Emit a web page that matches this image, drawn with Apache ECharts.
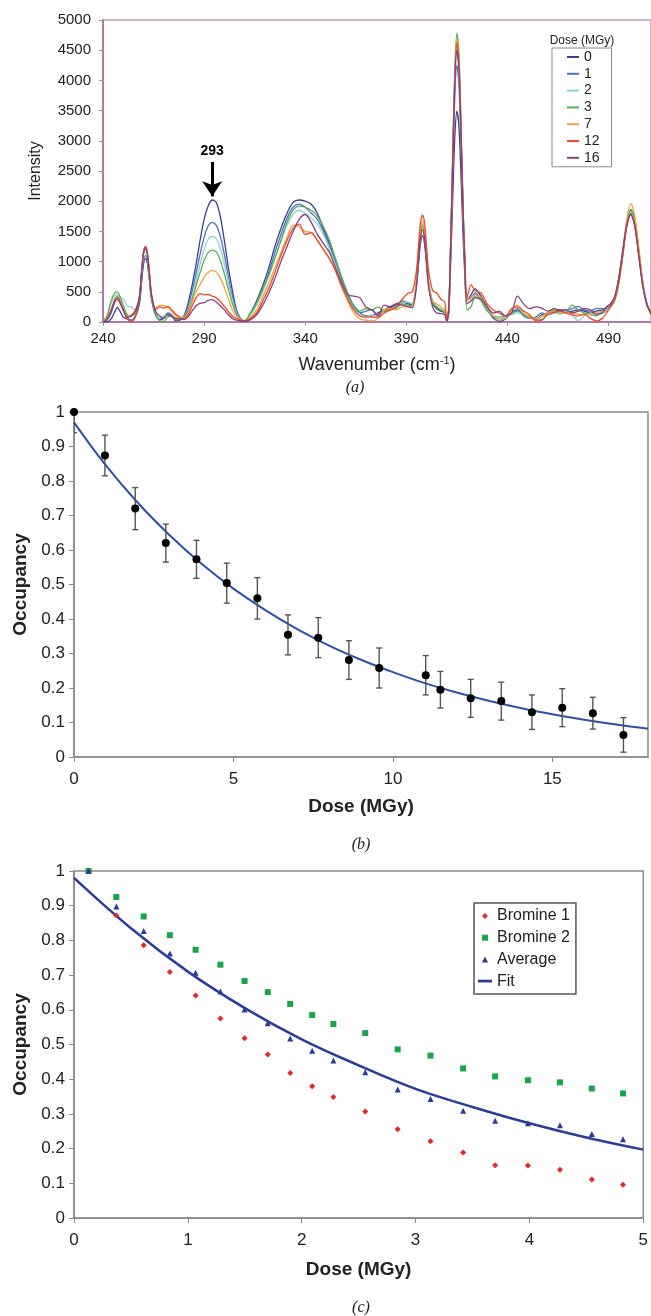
<!DOCTYPE html>
<html>
<head>
<meta charset="utf-8">
<script src="https://cdn.jsdelivr.net/npm/echarts@6/dist/echarts.min.js"></script>
<style>html,body{margin:0;padding:0;background:#fff}#c{width:651px;height:1316px}</style>
</head>
<body>
<div id="c"></div>
<script>
// ---------- Panel (a): Raman spectra ----------
const wavenumber = [240,242,244,246,247,248,250,252,254,256,
  258,259,260,261,262,263,264,266,
  268,270,272,274,276,278,280,
  282,284,286,288,290,292,294,296,298,300,302,304,306,308,310,
  313,316,319,322,325,328,331,334,337,340,343,346,349,352,355,358,361,364,367,370,
  373,376,379,382,385,388,391,393,395,396,397,398,399,400,401,403,405,407,409,
  410,411,412,413,414,415,416,417,418,419,420,
  422,424,427,430,433,436,439,442,445,448,451,454,457,460,463,466,469,472,475,478,481,484,
  487,489,491,493,495,497,499,501,503,505,507,509,511];
const doseLabels = ['0','1','2','3','7','12','16'];
const spec0 = [0,0,50,180,240,200,80,50,30,100,
  300,620,950,1050,960,680,380,120,
  40,60,140,100,20,30,100,
  300,600,950,1350,1700,1920,2020,1980,1750,1350,900,520,200,60,20,
  150,350,600,900,1250,1550,1800,1980,2020,2000,1950,1800,1550,1300,1000,700,450,250,150,100,
  100,150,200,250,300,330,300,280,600,950,1300,1430,1300,950,600,300,220,180,150,
  20,150,1050,2100,3070,3490,3250,2450,1500,750,350,
  450,550,420,250,80,10,50,150,200,120,80,40,120,150,180,200,150,180,200,180,150,180,
  200,250,300,400,700,1150,1600,1800,1600,1100,600,300,150];
const spec1 = [0,30,150,350,420,380,200,80,20,80,
  330,680,1000,1100,1000,700,400,130,
  50,80,150,120,40,50,90,
  250,500,800,1120,1400,1590,1650,1600,1420,1120,750,420,170,50,20,
  130,300,530,820,1150,1450,1720,1900,1950,1900,1800,1700,1500,1270,1000,700,430,250,150,180,
  200,120,180,230,280,350,320,300,650,1050,1450,1600,1450,1050,650,330,250,200,180,
  20,200,1280,2550,3740,4250,3950,2980,1800,900,380,
  400,480,380,220,60,20,80,150,220,100,60,80,150,120,150,180,200,220,260,200,180,220,
  220,220,280,400,700,1150,1630,1850,1650,1150,620,300,150];
const spec2 = [0,100,300,430,450,420,380,270,250,200,
  400,780,1100,1200,1080,760,430,170,
  60,100,120,90,60,60,80,
  200,420,680,950,1200,1370,1420,1380,1220,960,650,360,150,50,20,
  120,280,500,760,1050,1350,1600,1780,1850,1800,1720,1620,1450,1200,950,650,400,220,130,90,
  120,60,150,200,250,320,330,300,650,1060,1470,1620,1470,1060,650,330,260,220,180,
  20,220,1370,2730,4000,4550,4230,3190,1920,950,380,
  380,450,350,200,100,50,80,120,150,130,100,60,80,120,150,130,180,120,20,100,150,120,
  150,180,250,370,650,1100,1600,1820,1630,1130,600,280,130];
const spec3 = [0,100,350,490,500,450,280,120,100,170,
  400,800,1130,1230,1100,760,420,150,
  20,10,80,100,40,50,80,
  180,370,600,820,1020,1150,1190,1160,1020,800,540,300,130,40,20,
  150,320,550,780,1050,1350,1650,1850,1920,1900,1850,1750,1580,1350,1050,750,480,280,180,220,
  200,250,180,200,230,300,280,270,640,1030,1430,1580,1430,1030,640,330,240,200,160,
  10,240,1430,2870,4200,4780,4450,3350,2000,950,200,
  250,420,350,180,100,80,100,140,180,120,80,60,40,150,200,150,160,280,200,150,120,100,
  180,200,250,350,620,1080,1600,1870,1700,1200,650,300,120];
const spec7 = [0,50,200,370,390,360,220,100,120,200,
  420,810,1150,1250,1130,800,460,220,
  280,270,250,180,100,60,60,
  150,330,500,620,740,820,850,830,730,570,380,200,100,40,20,
  80,200,420,650,900,1150,1400,1600,1580,1500,1480,1350,1200,1050,850,580,350,150,50,30,
  20,60,200,220,200,250,250,270,650,1100,1520,1680,1520,1100,650,350,300,250,200,
  20,230,1400,2800,4120,4680,4350,3280,1970,950,350,
  400,450,400,250,100,30,60,200,280,150,80,50,100,150,180,160,150,150,130,120,130,150,
  180,200,250,380,680,1150,1700,1960,1750,1200,640,300,150];
const spec12 = [0,50,200,380,400,370,200,50,0,100,
  420,810,1150,1250,1130,790,450,200,
  250,230,260,200,130,80,50,
  120,260,400,470,450,455,430,400,340,260,170,100,60,30,20,
  60,150,350,560,820,1100,1350,1550,1620,1450,1480,1350,1200,1050,850,600,380,200,100,80,
  80,80,150,200,250,380,480,500,850,1250,1650,1770,1650,1250,850,520,480,380,330,
  20,230,1390,2770,4070,4620,4300,3240,1950,1000,400,
  620,520,480,300,200,150,100,220,250,180,120,20,30,130,160,180,150,120,100,130,60,20,
  60,150,250,370,650,1100,1580,1780,1600,1100,600,280,150];
const spec16 = [0,40,180,350,370,340,200,80,100,180,
  400,790,1130,1230,1110,780,440,180,
  100,60,120,90,60,50,40,
  80,180,270,310,320,360,370,330,270,200,120,60,30,20,10,
  40,120,280,480,720,1000,1250,1500,1700,1780,1650,1450,1300,1150,900,650,450,430,400,250,
  200,100,280,250,300,280,250,240,600,1000,1380,1530,1380,1000,600,250,150,140,120,
  10,220,1350,2700,3960,4500,4190,3150,1900,900,300,
  350,400,380,250,150,180,100,150,430,300,220,250,230,180,220,200,200,150,180,220,200,130,
  150,250,300,420,720,1180,1600,1780,1580,1080,580,280,140];
const spectra = [spec0, spec1, spec2, spec3, spec7, spec12, spec16];
const specColors = ['#3b3f8f','#4d72c6','#8fd3d3','#56b04f','#f7a03c','#ee4b26','#8b3f7d'];
const arrowPeak = 294, arrowTop = 2650, arrowBottom = 2080, arrowLabel = '293';

// ---------- Panel (b): occupancy vs dose ----------
const doseB = [0,0.97,1.92,2.88,3.84,4.79,5.75,6.71,7.66,8.62,9.57,11.03,11.49,12.44,13.4,14.36,15.31,16.27,17.23];
const occB  = [1.0,0.874,0.72,0.62,0.573,0.504,0.46,0.354,0.346,0.281,0.258,0.237,0.195,0.17,0.162,0.13,0.143,0.127,0.064];
const errB  = [0.06,0.059,0.061,0.055,0.055,0.058,0.06,0.058,0.058,0.056,0.058,0.057,0.053,0.055,0.055,0.05,0.055,0.046,0.05];
const fitBx = [0,1,2,3,4,5,6,7,8,9,10,11,12,13,14,15,16,17,18];
const fitBy = [0.97,0.845,0.737,0.643,0.56,0.488,0.426,0.371,0.323,0.282,0.246,0.214,0.187,0.163,0.142,0.124,0.108,0.094,0.082];

// ---------- Panel (c): bromine sites ----------
const doseC = [0.128,0.372,0.612,0.842,1.068,1.286,1.498,1.702,1.899,2.092,2.278,2.558,2.843,3.131,3.418,3.699,3.987,4.268,4.548,4.822];
const br1 = [1.0,0.872,0.786,0.709,0.641,0.575,0.518,0.471,0.418,0.38,0.349,0.307,0.256,0.221,0.189,0.152,0.151,0.139,0.111,0.096];
const br2 = [1.0,0.925,0.869,0.815,0.773,0.73,0.683,0.651,0.617,0.585,0.559,0.533,0.486,0.468,0.431,0.408,0.397,0.391,0.373,0.359];
const avgC = [1.0,0.898,0.827,0.762,0.707,0.653,0.601,0.561,0.517,0.482,0.454,0.42,0.37,0.343,0.309,0.28,0.273,0.267,0.242,0.227];
const fitCx = [0,0.5,1,1.5,2,2.5,3,3.5,4,4.5,5];
const fitCy = [0.98,0.835,0.71,0.605,0.515,0.44,0.372,0.32,0.273,0.232,0.197];
const legendC = ['Bromine 1','Bromine 2','Average','Fit'];

// ---------- build ----------
const FONT = 'Liberation Sans, Arial, sans-serif';
const pair = (xs, ys) => xs.map((x, i) => [x, ys[i]]);
const purple = '#a06a9a', grey = '#8a8a8a';

function occAxisY(gi) {
  return {type:'value', gridIndex:gi, min:0, max:1, interval:0.1,
    axisLine:{show:true, lineStyle:{color:grey, width:1.5}},
    axisTick:{show:true, length:5, lineStyle:{color:grey}},
    axisLabel:{fontSize:17, color:'#222', fontFamily:FONT, margin:9,
      formatter: v => String(Math.round(v*10)/10)},
    splitLine:{show:false},
    name:'Occupancy', nameLocation:'middle', nameGap:43,
    nameTextStyle:{fontSize:19, fontWeight:'bold', color:'#222', fontFamily:FONT}};
}
function doseAxisX(gi, max, interval, gap) {
  return {type:'value', gridIndex:gi, min:0, max:max, interval:interval,
    axisLine:{show:true, lineStyle:{color:grey, width:1.5}},
    axisTick:{show:true, length:5, lineStyle:{color:grey}},
    axisLabel:{fontSize:17, color:'#222', fontFamily:FONT, margin:14, showMaxLabel: max % interval === 0},
    splitLine:{show:false},
    name:'Dose (MGy)', nameLocation:'middle', nameGap:gap,
    nameTextStyle:{fontSize:19, fontWeight:'bold', color:'#222', fontFamily:FONT}};
}

const specSeries = doseLabels.map((name, k) => {
  const s = {name:name, type:'line', xAxisIndex:0, yAxisIndex:0,
    data: pair(wavenumber, spectra[k]), showSymbol:false, symbol:'none',
    smooth:0.3, color:specColors[k], lineStyle:{width:1.3, color:specColors[k]}, z:2+k};
  if (k === 0) {
    s.markLine = {silent:true, symbol:['none','arrow'], symbolSize:15, animation:false,
      lineStyle:{color:'#000', width:3, type:'solid'},
      label:{show:true, position:'start', formatter:arrowLabel, fontSize:14, fontWeight:'bold',
        color:'#000', fontFamily:FONT, distance:4},
      data:[[{coord:[arrowPeak, arrowTop]}, {coord:[arrowPeak, arrowBottom]}]]};
  }
  return s;
});

const option = {
  animation:false,
  backgroundColor:'#fff',
  textStyle:{fontFamily:FONT},
  grid:[
    {left:103, top:20, width:548, height:302, show:true, borderColor:purple, borderWidth:1, containLabel:false},
    {left:74, top:412, width:574, height:345, show:true, borderColor:grey, borderWidth:1.5},
    {left:74, top:871, width:570, height:347, show:true, borderColor:grey, borderWidth:1.5}
  ],
  xAxis:[
    {type:'value', gridIndex:0, min:240, max:511, interval:50,
      axisLine:{show:true, lineStyle:{color:purple, width:1.5}},
      axisTick:{show:true, length:4, lineStyle:{color:'#999'}},
      axisLabel:{fontSize:15, color:'#222', fontFamily:FONT, margin:9, showMaxLabel:false,
        formatter: v => String(v)},
      splitLine:{show:false},
      name:'{a|Wavenumber (cm}{s|-1}{a|)}', nameLocation:'middle', nameGap:33,
      nameTextStyle:{rich:{a:{fontSize:18, color:'#222', fontFamily:FONT},
        s:{fontSize:11, color:'#222', fontFamily:FONT, verticalAlign:'top', padding:[0,0,9,0]}}}},
    doseAxisX(1, 18, 5, 40),
    doseAxisX(2, 5, 1, 42)
  ],
  yAxis:[
    {type:'value', gridIndex:0, min:0, max:5000, interval:500,
      axisLine:{show:true, lineStyle:{color:purple, width:1.5}},
      axisTick:{show:true, length:4, lineStyle:{color:'#999'}},
      axisLabel:{fontSize:15, color:'#222', fontFamily:FONT, margin:12, formatter: v => String(v)},
      splitLine:{show:false},
      name:'Intensity', nameLocation:'middle', nameGap:59,
      nameTextStyle:{fontSize:16, color:'#222', fontFamily:FONT}},
    occAxisY(1),
    occAxisY(2)
  ],
  legend:[
    {data:doseLabels, orient:'vertical', left:552, top:48, icon:'rect', itemWidth:12, itemHeight:2,
      itemGap:2.8, padding:[2,12,2,15], borderColor:'#8a8a8a', borderWidth:1, backgroundColor:'#fff',
      textStyle:{fontSize:14, lineHeight:14, color:'#222', fontFamily:FONT}, selectedMode:false},
    {data:[
        {name:legendC[0], icon:'path://M5,0L10,5L5,10L0,5Z'},
        {name:legendC[1], icon:'path://M0,0H10V10H0Z'},
        {name:legendC[2], icon:'path://M5,0L10,10L0,10Z'},
        {name:legendC[3], icon:'path://M0,0H30V6H0Z'}],
      orient:'vertical', left:474, top:903, itemWidth:14, itemHeight:6, itemGap:5.7,
      padding:[5,6,5,4], borderColor:'#555', borderWidth:1.5, backgroundColor:'#fff',
      textStyle:{fontSize:16, lineHeight:16, color:'#222', fontFamily:FONT}, selectedMode:false}
  ],
  series:[
    ...specSeries,
    // panel b
    {name:'Fit (b)', type:'line', xAxisIndex:1, yAxisIndex:1, data:pair(fitBx, fitBy),
      smooth:0.4, showSymbol:false, symbol:'none', lineStyle:{color:'#2f4fa8', width:2}, z:3},
    {name:'Error (b)', type:'custom', xAxisIndex:1, yAxisIndex:1, clip:true,
      data: doseB.map((d, i) => [d, occB[i], errB[i]]),
      encode:{x:0, y:1},
      renderItem:(params, api) => {
        const x = api.value(0), y = api.value(1), e = api.value(2);
        const hi = api.coord([x, y + e]), lo = api.coord([x, y - e]);
        const w = 3, st = {stroke:'#555', lineWidth:1.4};
        return {type:'group', children:[
          {type:'line', shape:{x1:hi[0], y1:hi[1], x2:lo[0], y2:lo[1]}, style:st},
          {type:'line', shape:{x1:hi[0]-w, y1:hi[1], x2:hi[0]+w, y2:hi[1]}, style:st},
          {type:'line', shape:{x1:lo[0]-w, y1:lo[1], x2:lo[0]+w, y2:lo[1]}, style:st}]};
      }, z:4},
    {name:'Occupancy (b)', type:'scatter', xAxisIndex:1, yAxisIndex:1, data:pair(doseB, occB),
      symbol:'circle', symbolSize:8, itemStyle:{color:'#000', opacity:1}, z:5, clip:false},
    // panel c
    {name:legendC[3], type:'line', xAxisIndex:2, yAxisIndex:2, data:pair(fitCx, fitCy),
      smooth:0.4, showSymbol:false, symbol:'none', color:'#2c3c9c', lineStyle:{color:'#2c3c9c', width:2.5}, z:3},
    {name:legendC[0], type:'scatter', xAxisIndex:2, yAxisIndex:2, data:pair(doseC, br1),
      symbol:'diamond', symbolSize:6, color:'#e8262b', itemStyle:{color:'#e8262b', opacity:1}, z:4, clip:false},
    {name:legendC[1], type:'scatter', xAxisIndex:2, yAxisIndex:2, data:pair(doseC, br2),
      symbol:'rect', symbolSize:6, color:'#18a64a', itemStyle:{color:'#18a64a', opacity:1}, z:4, clip:false},
    {name:legendC[2], type:'scatter', xAxisIndex:2, yAxisIndex:2, data:pair(doseC, avgC),
      symbol:'triangle', symbolSize:6, color:'#283a9a', itemStyle:{color:'#283a9a', opacity:1}, z:5, clip:false}
  ],
  graphic:[
    {type:'text', x:582, y:41, style:{text:'Dose (MGy)', font:'12px '+FONT, fill:'#222', textAlign:'center', textVerticalAlign:'middle'}},
    {type:'text', x:355, y:388, style:{text:'(a)', font:'italic 16px Liberation Serif, serif', fill:'#222', textAlign:'center', textVerticalAlign:'middle'}},
    {type:'text', x:361, y:845, style:{text:'(b)', font:'italic 16px Liberation Serif, serif', fill:'#222', textAlign:'center', textVerticalAlign:'middle'}},
    {type:'text', x:361, y:1308, style:{text:'(c)', font:'italic 16px Liberation Serif, serif', fill:'#222', textAlign:'center', textVerticalAlign:'middle'}}
  ]
};
const chart = echarts.init(document.getElementById('c'), null, {renderer:'canvas', width:651, height:1316});
chart.setOption(option);
</script>
</body>
</html>
